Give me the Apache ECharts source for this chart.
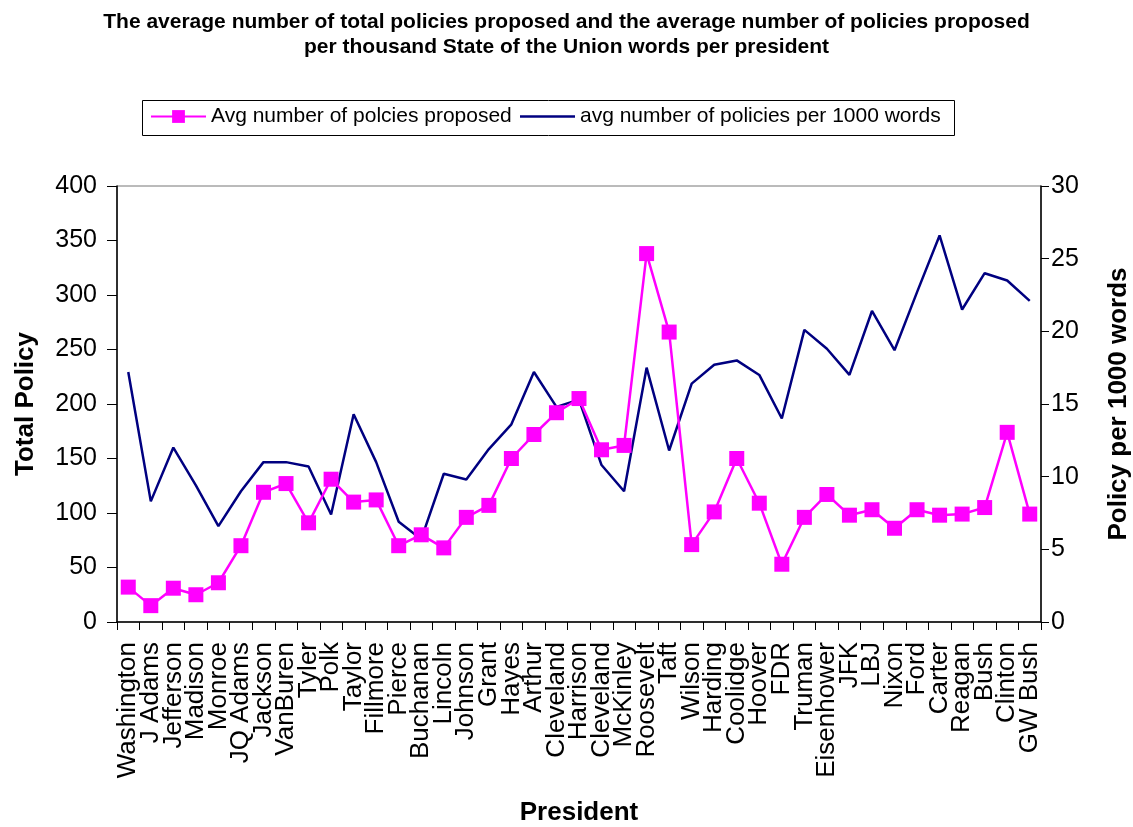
<!DOCTYPE html>
<html>
<head>
<meta charset="utf-8">
<title>Policies proposed per president</title>
<script src="https://cdn.jsdelivr.net/npm/echarts@6/dist/echarts.min.js"></script>
<style>
  html, body { margin: 0; padding: 0; background: #ffffff; }
  #chart { width: 1133px; height: 827px; }
</style>
</head>
<body>
<div id="chart"></div>
<script>
// Presidents in chronological order
const presidents = [
  'Washington', 'J Adams', 'Jefferson', 'Madison', 'Monroe', 'JQ Adams', 'Jackson',
  'VanBuren', 'Tyler', 'Polk', 'Taylor', 'Fillmore', 'Pierce', 'Buchanan', 'Lincoln',
  'Johnson', 'Grant', 'Hayes', 'Arthur', 'Cleveland', 'Harrison', 'Cleveland',
  'McKinley', 'Roosevelt', 'Taft', 'Wilson', 'Harding', 'Coolidge', 'Hoover', 'FDR',
  'Truman', 'Eisenhower', 'JFK', 'LBJ', 'Nixon', 'Ford', 'Carter', 'Reagan', 'Bush',
  'Clinton', 'GW Bush'
];

// Average number of policies proposed (left axis)
const avgPolicies = [
  32, 15, 31, 25, 36, 70, 119, 127, 91, 131, 110, 112, 70, 80, 68, 96, 107, 150,
  172, 192, 205, 158, 162, 338, 266, 71, 101, 150, 109, 53, 96, 117, 98, 103, 86,
  103, 98, 99, 105, 174, 99
];

// Average number of policies per 1000 words (right axis)
const policiesPer1000 = [
  17.2, 8.3, 12.0, 9.4, 6.6, 9.0, 11.0, 11.0, 10.7, 7.4, 14.3, 11.0, 6.9, 5.7, 10.2,
  9.8, 11.9, 13.6, 17.2, 14.8, 15.3, 10.8, 9.0, 17.5, 11.8, 16.4, 17.7, 18.0, 17.0,
  14.0, 20.1, 18.8, 17.0, 21.4, 18.7, 22.7, 26.6, 21.5, 24.0, 23.5, 22.1
];

const seriesNames = ['Avg number of polcies proposed', 'avg number of policies per 1000 words'];

const FONT = '"Liberation Sans", Arial, Helvetica, sans-serif';

const legendText = { fontFamily: FONT, fontSize: 21, color: '#000' };

const chart = echarts.init(document.getElementById('chart'), null, { renderer: 'canvas' });

chart.setOption({
  backgroundColor: '#ffffff',
  animation: false,
  textStyle: { fontFamily: FONT, color: '#000' },
  title: {
    text: 'The average number of total policies proposed and the average number of policies proposed\nper thousand State of the Union words per president',
    left: 'center',
    top: 5,
    textStyle: {
      fontFamily: FONT,
      fontSize: 21,
      fontWeight: 'bold',
      lineHeight: 25,
      color: '#000',
      align: 'center'
    }
  },
  // Frame around the two legend entries
  graphic: [{
    type: 'rect',
    left: 140,
    top: 98,
    shape: { width: 812, height: 35 },
    style: { fill: 'none', stroke: '#000', lineWidth: 1 },
    silent: true
  }],
  legend: [
    {
      // line with square marker
      left: 150,
      top: 106,
      padding: 0,
      itemWidth: 55,
      itemHeight: 16,
      itemGap: 5,
      textStyle: legendText,
      data: [seriesNames[0]]
    },
    {
      // plain line
      left: 520,
      top: 106,
      padding: 0,
      itemWidth: 55,
      itemHeight: 2.5,
      itemGap: 5,
      icon: 'rect',
      textStyle: legendText,
      data: [seriesNames[1]]
    }
  ],
  grid: {
    left: 117,
    right: 92,
    top: 186,
    bottom: 205,
    outerBoundsMode: 'none',
    containLabel: false,
    show: true,
    borderColor: '#777',
    borderWidth: 1,
    backgroundColor: 'transparent'
  },
  xAxis: {
    type: 'category',
    data: presidents,
    boundaryGap: true,
    name: 'President',
    nameLocation: 'middle',
    nameGap: 178,
    nameTextStyle: { fontFamily: FONT, fontSize: 26, fontWeight: 'bold', color: '#000' },
    axisLine: { show: true, lineStyle: { color: '#000', width: 1.5 } },
    axisTick: { show: true, alignWithLabel: false, length: 8, lineStyle: { color: '#000' } },
    axisLabel: {
      interval: 0,
      rotate: 90,
      margin: 20,
      fontFamily: FONT,
      fontSize: 26,
      color: '#000'
    },
    splitLine: { show: false }
  },
  yAxis: [
    {
      type: 'value',
      min: 0,
      max: 400,
      interval: 50,
      position: 'left',
      name: 'Total Policy',
      nameLocation: 'middle',
      nameRotate: 90,
      nameGap: 78,
      nameTextStyle: { fontFamily: FONT, fontSize: 26, fontWeight: 'bold', color: '#000' },
      axisLine: { show: true, lineStyle: { color: '#000', width: 1.5 } },
      axisTick: { show: true, length: 10, lineStyle: { color: '#000' } },
      axisLabel: { margin: 20, fontFamily: FONT, fontSize: 25, color: '#000' },
      splitLine: { show: false }
    },
    {
      type: 'value',
      min: 0,
      max: 30,
      interval: 5,
      position: 'right',
      name: 'Policy per 1000 words',
      nameLocation: 'middle',
      nameRotate: 90,
      nameGap: 65,
      nameTextStyle: { fontFamily: FONT, fontSize: 26, fontWeight: 'bold', color: '#000' },
      axisLine: { show: true, lineStyle: { color: '#000', width: 1.5 } },
      axisTick: { show: true, length: 8, lineStyle: { color: '#000' } },
      axisLabel: { margin: 10, fontFamily: FONT, fontSize: 25, color: '#000' },
      splitLine: { show: false }
    }
  ],
  series: [
    {
      name: seriesNames[0],
      type: 'line',
      yAxisIndex: 0,
      data: avgPolicies,
      symbol: 'rect',
      symbolSize: 15,
      showAllSymbol: true,
      lineStyle: { color: '#ff00ff', width: 2.5 },
      itemStyle: { color: '#ff00ff' },
      z: 3
    },
    {
      name: seriesNames[1],
      type: 'line',
      yAxisIndex: 1,
      data: policiesPer1000,
      showSymbol: false,
      lineStyle: { color: '#000080', width: 2.5 },
      itemStyle: { color: '#000080' },
      z: 2
    }
  ]
});
</script>
</body>
</html>
